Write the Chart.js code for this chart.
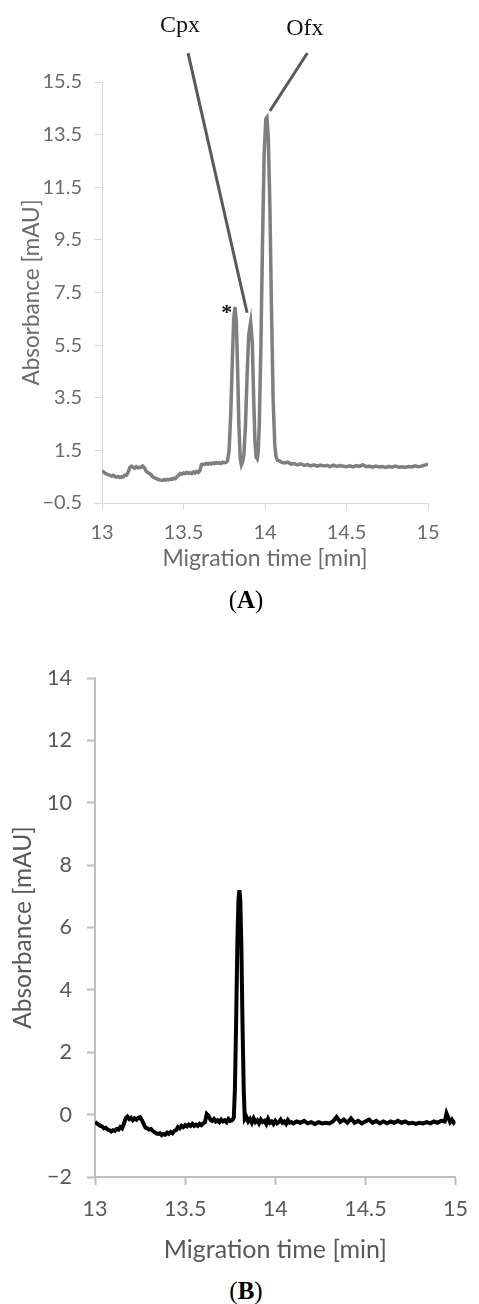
<!DOCTYPE html>
<html>
<head>
<meta charset="utf-8">
<script src="https://cdn.jsdelivr.net/npm/chart.js@4.4.1/dist/chart.umd.min.js"></script>
<style>
  body { margin: 0; background: #fff; width: 479px; height: 1304px; position: relative; overflow: hidden; }
  .box { position: absolute; left: 0; width: 479px; }
  .cap { position: absolute; transform: translateX(-50%); font-family: "Liberation Serif", "DejaVu Serif", serif; font-size: 25px; line-height: 28px; color: #000; }
</style>
</head>
<body>
<div class="box" style="top:0;height:590px"><canvas id="chartA" width="479" height="590"></canvas></div>
<div class="cap" style="left:246px;top:586px">(<b>A</b>)</div>
<div class="box" style="top:620px;height:650px"><canvas id="chartB" width="479" height="650"></canvas></div>
<div class="cap" style="left:246px;top:1277px">(<b>B</b>)</div>
<script>
// electropherogram (A): standard mix, three peaks
const timeA = [
  13.00, 13.01, 13.02, 13.03, 13.04, 13.05, 13.06, 13.07, 13.08, 13.09,
  13.10, 13.11, 13.12, 13.13, 13.14, 13.15, 13.16, 13.17, 13.18, 13.19,
  13.20, 13.21, 13.22, 13.23, 13.24, 13.25, 13.26, 13.27, 13.28, 13.29,
  13.30, 13.31, 13.32, 13.33, 13.34, 13.35, 13.36, 13.37, 13.38, 13.39,
  13.40, 13.41, 13.42, 13.43, 13.44, 13.45, 13.46, 13.47, 13.48, 13.49,
  13.50, 13.51, 13.52, 13.53, 13.54, 13.55, 13.56, 13.57, 13.58, 13.59,
  13.60, 13.61, 13.62, 13.63, 13.64, 13.65, 13.66, 13.67, 13.68, 13.69,
  13.70, 13.71, 13.72, 13.73, 13.74, 13.75, 13.76, 13.77,
  13.780, 13.790, 13.800, 13.808, 13.816, 13.824, 13.832, 13.840, 13.848, 13.855, 13.862,
  13.870, 13.880, 13.890, 13.900, 13.912, 13.922, 13.930, 13.938, 13.945, 13.952, 13.958,
  13.965, 13.975, 13.985, 13.995, 14.005, 14.012, 14.020, 14.030, 14.040, 14.050, 14.060, 14.068, 14.076, 14.09,
  14.10, 14.12, 14.14, 14.16, 14.18, 14.20, 14.22, 14.24, 14.26, 14.28,
  14.30, 14.32, 14.34, 14.36, 14.38, 14.40, 14.42, 14.44, 14.46, 14.48,
  14.50, 14.52, 14.54, 14.56, 14.58, 14.60, 14.62, 14.64, 14.66, 14.68,
  14.70, 14.72, 14.74, 14.76, 14.78, 14.80, 14.82, 14.84, 14.86, 14.88,
  14.90, 14.92, 14.94, 14.96, 14.98, 15.00
];
const absA = [
  0.72, 0.68, 0.62, 0.60, 0.57, 0.55, 0.52, 0.55, 0.50, 0.48,
  0.51, 0.47, 0.50, 0.49, 0.56, 0.55, 0.66, 0.84, 0.90, 0.86,
  0.82, 0.88, 0.84, 0.86, 0.85, 0.90, 0.84, 0.72, 0.66, 0.63,
  0.58, 0.50, 0.46, 0.44, 0.41, 0.38, 0.37, 0.36, 0.39, 0.37,
  0.40, 0.38, 0.41, 0.40, 0.44, 0.42, 0.50, 0.55, 0.62, 0.60,
  0.64, 0.62, 0.66, 0.63, 0.65, 0.62, 0.68, 0.64, 0.70, 0.66,
  0.72, 0.96, 0.98, 0.96, 1.00, 0.97, 1.01, 0.98, 1.02, 1.00,
  1.04, 1.01, 1.03, 1.00, 1.05, 1.03, 1.04, 1.10,
  1.5, 2.9, 5.0, 6.5, 6.95, 6.4, 4.6, 2.4, 1.2, 0.95, 1.05,
  1.3, 2.4, 4.3, 5.9, 6.37, 5.6, 3.6, 1.9, 1.25, 1.18, 1.4,
  2.5, 5.5, 9.5, 12.8, 14.1, 14.16, 13.4, 10.8, 6.8, 3.4, 1.7, 1.25, 1.12, 1.10,
  1.05, 1.02, 1.05, 0.98, 1.00, 0.95, 0.99, 0.93, 0.96, 0.91,
  0.95, 0.90, 0.94, 0.91, 0.93, 0.88, 0.94, 0.89, 0.92, 0.90,
  0.88, 0.91, 0.87, 0.92, 0.89, 0.95, 0.88, 0.90, 0.86, 0.90,
  0.87, 0.89, 0.85, 0.89, 0.86, 0.90, 0.86, 0.88, 0.85, 0.89,
  0.87, 0.91, 0.88, 0.90, 0.94, 0.97
];

// electropherogram (B): sample, single peak
const timeB = [
  13.00, 13.01, 13.02, 13.03, 13.04, 13.05, 13.06, 13.07, 13.08, 13.09,
  13.10, 13.11, 13.12, 13.13, 13.14, 13.15, 13.16, 13.17, 13.18, 13.19,
  13.20, 13.21, 13.22, 13.23, 13.24, 13.25, 13.26, 13.27, 13.28, 13.29,
  13.30, 13.31, 13.32, 13.33, 13.34, 13.35, 13.36, 13.37, 13.38, 13.39,
  13.40, 13.41, 13.42, 13.43, 13.44, 13.45, 13.46, 13.47, 13.48, 13.49,
  13.50, 13.51, 13.52, 13.53, 13.54, 13.55, 13.56, 13.57, 13.58, 13.59,
  13.60, 13.61, 13.62, 13.63, 13.64, 13.65, 13.66, 13.67, 13.68, 13.69,
  13.70, 13.71, 13.72, 13.73, 13.74, 13.75, 13.76,
  13.770, 13.776, 13.783, 13.790, 13.796, 13.801, 13.806, 13.812, 13.818, 13.825, 13.831,
  13.84, 13.85, 13.86, 13.87, 13.88, 13.89,
  13.90, 13.91, 13.92, 13.93, 13.94, 13.95, 13.96, 13.97, 13.98, 13.99,
  14.00, 14.01, 14.02, 14.03, 14.04, 14.05, 14.06, 14.07, 14.08, 14.09,
  14.10, 14.12, 14.14, 14.16, 14.18, 14.20, 14.22, 14.24, 14.26, 14.28,
  14.30, 14.32, 14.34, 14.36, 14.38, 14.40, 14.42, 14.44, 14.46, 14.48,
  14.50, 14.52, 14.54, 14.56, 14.58, 14.60, 14.62, 14.64, 14.66, 14.68,
  14.70, 14.72, 14.74, 14.76, 14.78, 14.80, 14.82, 14.84, 14.86, 14.88,
  14.90, 14.92, 14.94, 14.95, 14.96, 14.97, 14.98, 14.99, 15.00
];
const absB = [
  -0.24, -0.28, -0.32, -0.36, -0.38, -0.44, -0.42, -0.48, -0.50, -0.54,
  -0.50, -0.52, -0.46, -0.48, -0.40, -0.44, -0.30, -0.12, -0.06, -0.14,
  -0.10, -0.18, -0.12, -0.16, -0.10, -0.08, -0.18, -0.30, -0.42, -0.44,
  -0.48, -0.46, -0.52, -0.56, -0.60, -0.62, -0.60, -0.66, -0.62, -0.64,
  -0.58, -0.62, -0.56, -0.60, -0.52, -0.50, -0.40, -0.44, -0.36, -0.40,
  -0.34, -0.38, -0.32, -0.36, -0.30, -0.36, -0.32, -0.36, -0.30, -0.34,
  -0.28, -0.24, 0.02, -0.04, -0.16, -0.20, -0.14, -0.22, -0.18, -0.24,
  -0.16, -0.22, -0.18, -0.24, -0.14, -0.20, -0.18,
  -0.1, 0.8, 3.0, 5.6, 6.9, 7.2, 6.9, 5.4, 3.0, 0.8, -0.15,
  -0.08, -0.22, -0.14, -0.26, -0.12, -0.24,
  -0.18, -0.28, -0.16, -0.24, -0.20, -0.30, -0.14, -0.26, -0.22, -0.30,
  -0.20, -0.28, -0.24, -0.16, -0.26, -0.22, -0.30, -0.18, -0.26, -0.24,
  -0.28, -0.22, -0.26, -0.20, -0.28, -0.24, -0.30, -0.24, -0.28, -0.26,
  -0.28, -0.22, -0.08, -0.24, -0.16, -0.26, -0.12, -0.26, -0.20, -0.28,
  -0.22, -0.16, -0.26, -0.20, -0.28, -0.22, -0.28, -0.22, -0.26, -0.20,
  -0.26, -0.22, -0.28, -0.26, -0.30, -0.26, -0.28, -0.24, -0.28, -0.22,
  -0.26, -0.20, -0.22, 0.04, -0.10, -0.24, -0.16, -0.26, -0.20
];

const xTicks = [13, 13.5, 14, 14.5, 15];
const yTicksA = [-0.5, 1.5, 3.5, 5.5, 7.5, 9.5, 11.5, 13.5, 15.5];
const yTicksB = [-2, 0, 2, 4, 6, 8, 10, 12, 14];

const fmt = (v, digits) => {
  const s = Math.abs(v).toFixed(digits);
  return v < 0 ? '\u2212' + s : s;
};

const toPoints = (xs, ys) => xs.map((t, i) => ({ x: t, y: ys[i] }));

// peak names with leader lines, drawn in value space of chart A
const calloutPlugin = {
  id: 'callouts',
  afterDraw(chart) {
    if (chart.canvas.id !== 'chartA') return;
    const { ctx, scales: { x, y } } = chart;
    const px = (t) => x.getPixelForValue(t);
    const py = (v) => y.getPixelForValue(v);
    ctx.save();
    ctx.strokeStyle = '#595959';
    ctx.lineWidth = 3;
    ctx.lineCap = 'butt';
    ctx.beginPath();
    ctx.moveTo(px(13.528), py(16.6));
    ctx.lineTo(px(13.89), py(6.73));
    ctx.moveTo(px(14.26), py(16.6));
    ctx.lineTo(px(14.03), py(14.4));
    ctx.stroke();

    ctx.fillStyle = '#111';
    ctx.font = '24px "Liberation Serif", "DejaVu Serif", serif';
    ctx.textAlign = 'center';
    ctx.textBaseline = 'alphabetic';
    ctx.fillText('Cpx', px(13.479), py(17.4));
    ctx.fillText('Ofx', px(14.245), py(17.3));

    ctx.font = 'bold 22px "Liberation Serif", "DejaVu Serif", serif';
    ctx.fillText('*', px(13.765), py(6.5));
    ctx.restore();
  }
};

function makeChart(id, cfg) {
  const tickColor = cfg.axisColor;
  return new Chart(document.getElementById(id), {
    type: 'line',
    data: {
      datasets: [{
        data: toPoints(cfg.times, cfg.values),
        borderColor: cfg.lineColor,
        borderWidth: cfg.lineWidth,
        pointRadius: 0,
        tension: 0,
        fill: false
      }]
    },
    options: {
      responsive: false,
      animation: false,
      parsing: false,
      layout: { padding: cfg.padding },
      plugins: { legend: { display: false }, tooltip: { enabled: false } },
      scales: {
        x: {
          type: 'linear',
          min: 13,
          max: 15,
          afterBuildTicks: (axis) => { axis.ticks = xTicks.map(v => ({ value: v })); },
          afterFit: (axis) => { axis.height = cfg.xHeight; },
          border: { display: true, color: tickColor, width: cfg.axisWidth },
          grid: { display: true, drawOnChartArea: false, drawTicks: true, tickLength: cfg.tickLen, tickColor: tickColor, tickWidth: cfg.axisWidth },
          ticks: {
            color: cfg.textColor,
            padding: cfg.xTickPad,
            maxRotation: 0,
            font: { family: 'Lato', size: cfg.fontSize },
            callback: (v) => String(v)
          },
          title: {
            display: true,
            text: 'Migration time [min]',
            color: cfg.textColor,
            font: { family: 'Lato', size: cfg.xTitleSize },
            padding: { top: 0, bottom: cfg.xTitlePad }
          }
        },
        y: {
          min: cfg.yTicks[0],
          max: cfg.yTicks[cfg.yTicks.length - 1],
          afterBuildTicks: (axis) => { axis.ticks = cfg.yTicks.map(v => ({ value: v })); },
          afterFit: (axis) => { axis.width = cfg.yWidth; },
          border: { display: true, color: tickColor, width: cfg.axisWidth },
          grid: { display: true, drawOnChartArea: false, drawTicks: true, tickLength: cfg.tickLen, tickColor: tickColor, tickWidth: cfg.axisWidth },
          ticks: {
            color: cfg.textColor,
            padding: cfg.yTickPad,
            font: { family: 'Lato', size: cfg.fontSize },
            callback: (v) => fmt(v, cfg.digits)
          },
          title: {
            display: true,
            text: 'Absorbance [mAU]',
            color: cfg.textColor,
            font: { family: 'Lato', size: cfg.yTitleSize },
            padding: { top: cfg.yTitlePad, bottom: 0 }
          }
        }
      }
    },
    plugins: [calloutPlugin]
  });
}

makeChart('chartA', {
  times: timeA, values: absA, yTicks: yTicksA, digits: 1,
  lineColor: '#7f7f7f', lineWidth: 3.5,
  axisColor: '#d9d9d9', axisWidth: 1, tickLen: 7,
  textColor: '#6b6b6b', fontSize: 20, xTitleSize: 23, yTitleSize: 22.5,
  padding: { top: 82, right: 51, bottom: 17, left: 0 },
  xHeight: 70, yWidth: 102,
  xTickPad: 11, yTickPad: 13, xTitlePad: 1, yTitlePad: 18
});

makeChart('chartB', {
  times: timeB, values: absB, yTicks: yTicksB, digits: 0,
  lineColor: '#000000', lineWidth: 4,
  axisColor: '#bfbfbf', axisWidth: 2, tickLen: 8,
  textColor: '#595959', fontSize: 21.5, xTitleSize: 25, yTitleSize: 24.5,
  padding: { top: 58, right: 13, bottom: 3, left: 0 },
  xHeight: 90, yWidth: 95,
  xTickPad: 11, yTickPad: 15, xTitlePad: 2, yTitlePad: 8
});
</script>
</body>
</html>
